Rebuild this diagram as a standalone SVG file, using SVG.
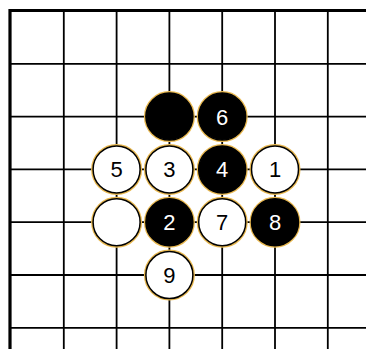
<svg xmlns="http://www.w3.org/2000/svg" width="366" height="349" viewBox="0 0 366 349">
<style>
.grid line{stroke:#000;stroke-width:1.8}
.border{stroke:#000;stroke-width:3.2;fill:none}
.halo{fill:none;stroke:#e8b850;stroke-width:2}
.b{fill:#000;stroke:#000;stroke-width:1.5}
.w{fill:#fff;stroke:#000;stroke-width:1.5}
.lb{font-family:"Liberation Sans",Arial,sans-serif;font-size:22px;text-anchor:middle;fill:#fff}
.lw{font-family:"Liberation Sans",Arial,sans-serif;font-size:22px;text-anchor:middle;fill:#000}
</style>
<rect width="366" height="349" fill="#fff"/>
<g id="connectors" class="grid">
<line x1="63.8" y1="11" x2="63.8" y2="349"/>
<line x1="116.6" y1="11" x2="116.6" y2="349"/>
<line x1="169.4" y1="11" x2="169.4" y2="349"/>
<line x1="222.2" y1="11" x2="222.2" y2="349"/>
<line x1="275" y1="11" x2="275" y2="349"/>
<line x1="327.8" y1="11" x2="327.8" y2="349"/>
<line x1="10" y1="63.8" x2="366" y2="63.8"/>
<line x1="10" y1="116.6" x2="366" y2="116.6"/>
<line x1="10" y1="169.4" x2="366" y2="169.4"/>
<line x1="10" y1="222.2" x2="366" y2="222.2"/>
<line x1="10" y1="275" x2="366" y2="275"/>
<line x1="10" y1="327.8" x2="366" y2="327.8"/>
<path class="border" d="M10,349 V10.5 H366"/>
</g>
<g id="stone-b1"><circle class="halo" cx="169.4" cy="116.6" r="24.5"/><circle class="b" cx="169.4" cy="116.6" r="23.5"/></g>
<g id="stone-6"><circle class="halo" cx="222.2" cy="116.6" r="24.5"/><circle class="b" cx="222.2" cy="116.6" r="23.5"/><text class="lb" x="222.2" y="124.6">6</text></g>
<g id="stone-5"><circle class="halo" cx="116.6" cy="169.4" r="24.5"/><circle class="w" cx="116.6" cy="169.4" r="23.5"/><text class="lw" x="116.6" y="177.4">5</text></g>
<g id="stone-3"><circle class="halo" cx="169.4" cy="169.4" r="24.5"/><circle class="w" cx="169.4" cy="169.4" r="23.5"/><text class="lw" x="169.4" y="177.4">3</text></g>
<g id="stone-4"><circle class="halo" cx="222.2" cy="169.4" r="24.5"/><circle class="b" cx="222.2" cy="169.4" r="23.5"/><text class="lb" x="222.2" y="177.4">4</text></g>
<g id="stone-1"><circle class="halo" cx="275" cy="169.4" r="24.5"/><circle class="w" cx="275" cy="169.4" r="23.5"/><text class="lw" x="275" y="177.4">1</text></g>
<g id="stone-w1"><circle class="halo" cx="116.6" cy="222.2" r="24.5"/><circle class="w" cx="116.6" cy="222.2" r="23.5"/></g>
<g id="stone-2"><circle class="halo" cx="169.4" cy="222.2" r="24.5"/><circle class="b" cx="169.4" cy="222.2" r="23.5"/><text class="lb" x="169.4" y="230.2">2</text></g>
<g id="stone-7"><circle class="halo" cx="222.2" cy="222.2" r="24.5"/><circle class="w" cx="222.2" cy="222.2" r="23.5"/><text class="lw" x="222.2" y="230.2">7</text></g>
<g id="stone-8"><circle class="halo" cx="275" cy="222.2" r="24.5"/><circle class="b" cx="275" cy="222.2" r="23.5"/><text class="lb" x="275" y="230.2">8</text></g>
<g id="stone-9"><circle class="halo" cx="169.4" cy="275" r="24.5"/><circle class="w" cx="169.4" cy="275" r="23.5"/><text class="lw" x="169.4" y="283">9</text></g>
</svg>
